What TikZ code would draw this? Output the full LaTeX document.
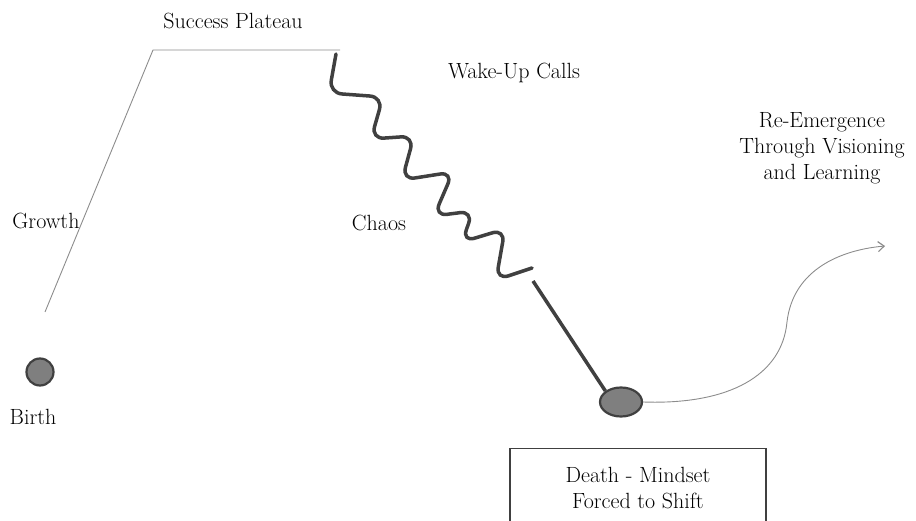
\documentclass[tikz,border=0pt]{standalone}
\usetikzlibrary{shapes.geometric,arrows.meta}
\definecolor{thin}{HTML}{8C8C8C}
\definecolor{thick}{HTML}{404040}
\definecolor{dotfill}{HTML}{7F7F7F}
\tikzset{
  lbl/.style={font=\fontsize{22}{26}\selectfont, anchor=base, inner sep=0pt, align=center},
  thinline/.style={draw=thin, line width=0.9pt},
  thickline/.style={draw=thick, line width=3.5pt, line cap=round},
  dot/.style={draw=thick, fill=dotfill, line width=2.2pt},
}
\begin{document}
\begin{tikzpicture}[x=1pt,y=-1pt]
\useasboundingbox (0,0) rectangle (916,521);
\clip (0,0) rectangle (916,521);
% Birth
\node[dot, circle, minimum size=27pt, inner sep=0pt] (birth) at (40,372) {};
\node[lbl] (birthl) at (33,424) {Birth};
% growth and plateau
\coordinate (g0) at (45,312);
\coordinate (g1) at (153,50);
\coordinate (g2) at (340,50);
\draw[thinline] (g0) -- (g1) -- (g2);
\node[lbl] (plat) at (233,29) {Success Plateau};
\node[lbl] (growth) at (46,229) {Growth};
% chaos squiggle
\coordinate (w0) at (336,54);
\coordinate (w1) at (532,268);
\draw[thickline, rounded corners=13pt] (w0) -- (329,93) -- (383,97) -- (371,139) -- (414,136) -- (402,180) -- (453,172) -- (434,216) -- (473,211) -- (462,242) -- (505,229) -- (496,280) -- (w1);
\node[lbl] (wake) at (514,79) {Wake-Up Calls};
\node[lbl] (chaos) at (379,231) {Chaos};
% death
\node[dot, ellipse, minimum width=42pt, minimum height=29pt, inner sep=0pt] (death) at (621,402) {};
\coordinate (d0) at (533,281);
\draw[thickline, line cap=butt] (d0) -- (death.north west);
% re-emergence curve
\coordinate (r1) at (885,246);
\draw[thinline, -{Straight Barb[length=6pt,width=10pt,line width=1.2pt]}] (death.east) .. controls (730,405) and (782,375) .. (787,322) .. controls (793,270) and (840,250) .. (r1);
\node[lbl] (reem) at (822,180) {Re-Emergence\\Through Visioning\\and Learning};
% box
\node[draw=thick, line width=1.2pt, minimum width=256pt, minimum height=100pt, anchor=north, inner sep=0pt] (box) at (638,448) {};
\node[lbl] (boxt) at (638,508) {Death - Mindset\\Forced to Shift};
\end{tikzpicture}
\end{document}
